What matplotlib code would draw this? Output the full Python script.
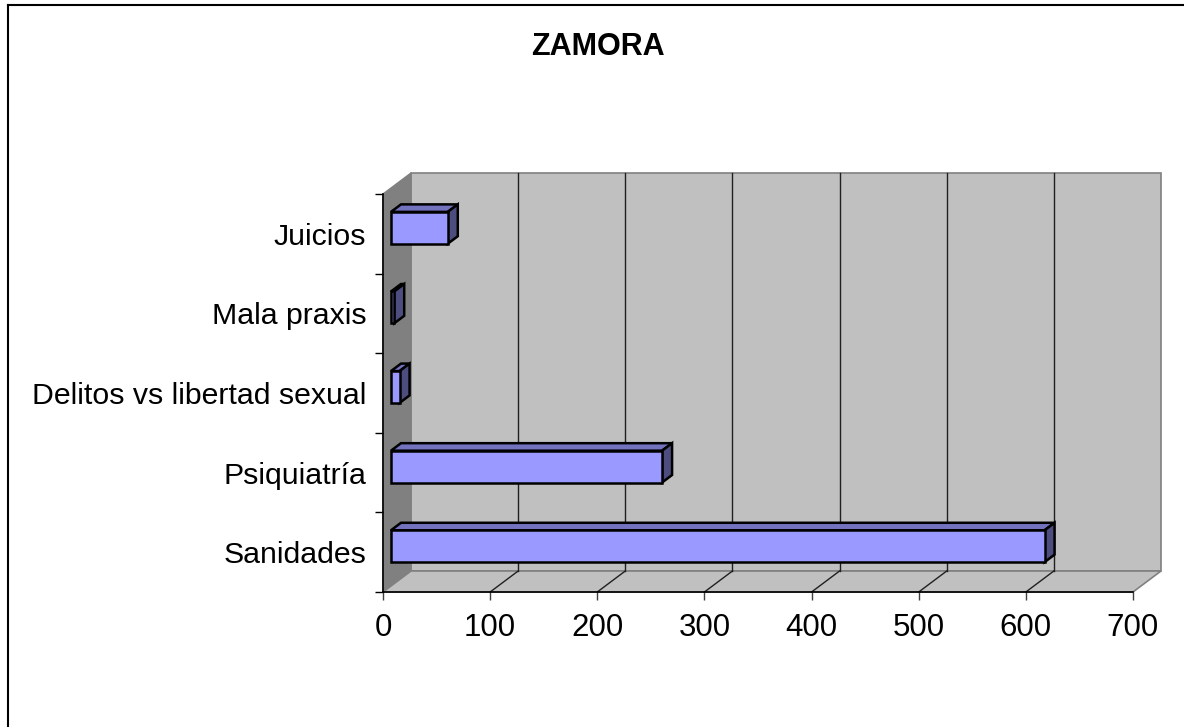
import numpy as np
import matplotlib.pyplot as plt
from matplotlib.patches import Polygon, Rectangle
from matplotlib.lines import Line2D

# data
categories = ["Sanidades", "Psiquiatría", "Delitos vs libertad sexual", "Mala praxis", "Juicios"]
values = [610, 253, 8, 3, 53]
x_ticks = [0, 100, 200, 300, 400, 500, 600, 700]
title = "ZAMORA"

plt.rcParams['font.family'] = ['Liberation Sans', 'DejaVu Sans']

W, H = 1184, 727
fig = plt.figure(figsize=(W / 100, H / 100), dpi=100)

# front plane of the 3d box, in pixels
left_px, right_px, bottom_px, top_px = 383, 1133, 592, 194
ax = fig.add_axes([left_px / W, 1 - bottom_px / H,
                   (right_px - left_px) / W, (bottom_px - top_px) / H])
xmax = x_ticks[-1]
ncat = len(categories)
ax.set_xlim(0, xmax)
ax.set_ylim(0, ncat)

# pixel offsets -> data units
px_x = (right_px - left_px) / xmax
px_y = (bottom_px - top_px) / ncat
DX, DY = 28 / px_x, 21 / px_y  # wall depth
fx, fy = 8 / px_x, 6 / px_y    # bar front
bx, by = 18 / px_x, 13.5 / px_y  # bar back

kw = dict(clip_on=False)

# walls and floor
ax.add_patch(Rectangle((DX, DY), xmax, ncat, facecolor='#C0C0C0', edgecolor='#808080', lw=1.2, zorder=1, **kw))
ax.add_patch(Polygon([(0, 0), (0, ncat), (DX, ncat + DY), (DX, DY)], closed=True,
                     facecolor='#808080', edgecolor='#808080', lw=1, zorder=1, **kw))
ax.add_patch(Polygon([(0, 0), (xmax, 0), (xmax + DX, DY), (DX, DY)], closed=True,
                     facecolor='#C0C0C0', edgecolor='#808080', lw=1.2, zorder=1, **kw))

# grid on wall and floor
for v in x_ticks[1:-1]:
    ax.add_line(Line2D([v + DX, v + DX], [DY, ncat + DY], color='#202020', lw=1, zorder=2, **kw))
    ax.add_line(Line2D([v, v + DX], [0, DY], color='#202020', lw=1, zorder=2, **kw))

# bars
h = 0.2
for i, v in enumerate(values):
    yc = i + 0.5
    y0, y1 = yc - h, yc + h
    top = Polygon([(fx, y1 + fy), (fx + v, y1 + fy), (bx + v, y1 + by), (bx, y1 + by)], closed=True,
                  facecolor='#7272BF', edgecolor='black', lw=1.8, zorder=3, **kw)
    side = Polygon([(fx + v, y0 + fy), (fx + v, y1 + fy), (bx + v, y1 + by), (bx + v, y0 + by)], closed=True,
                   facecolor='#4D4D80', edgecolor='black', lw=1.8, zorder=3, **kw)
    ax.add_patch(top)
    ax.add_patch(side)
    ax.barh(yc + fy, v, height=2 * h, left=fx, color='#9999FF', edgecolor='black', lw=1.8, zorder=4)

# axes
for s in ['top', 'right']:
    ax.spines[s].set_visible(False)
for s in ['left', 'bottom']:
    ax.spines[s].set_color('black')
    ax.spines[s].set_linewidth(1.2)
    ax.spines[s].set_zorder(5)

ax.set_xticks(x_ticks)
ax.set_xticklabels([str(t) for t in x_ticks], fontsize=22.5)
ax.tick_params(axis='x', direction='out', length=5.8, width=1, color='#404040', pad=9)

ax.set_yticks(np.arange(ncat + 1))
ax.set_yticklabels([])
ax.tick_params(axis='y', which='major', direction='out', length=5.8, width=1, color='black')
ax.set_yticks(np.arange(ncat) + 0.5, minor=True)
ax.set_yticklabels(categories, minor=True, fontsize=21.8)
ax.tick_params(axis='y', which='minor', length=0, pad=12)
ax.patch.set_visible(False)

fig.text(598 / W, 1 - 47 / H, title, ha='center', va='center', fontsize=22, fontweight='bold')

# outer chart border
fig.add_artist(Line2D([7.5 / W, 7.5 / W], [0, 1 - 5 / H], color='black', lw=1.5, transform=fig.transFigure))
fig.add_artist(Line2D([7.5 / W, 1], [1 - 5 / H, 1 - 5 / H], color='black', lw=1.5, transform=fig.transFigure))

fig.savefig('out.png', dpi=100)
